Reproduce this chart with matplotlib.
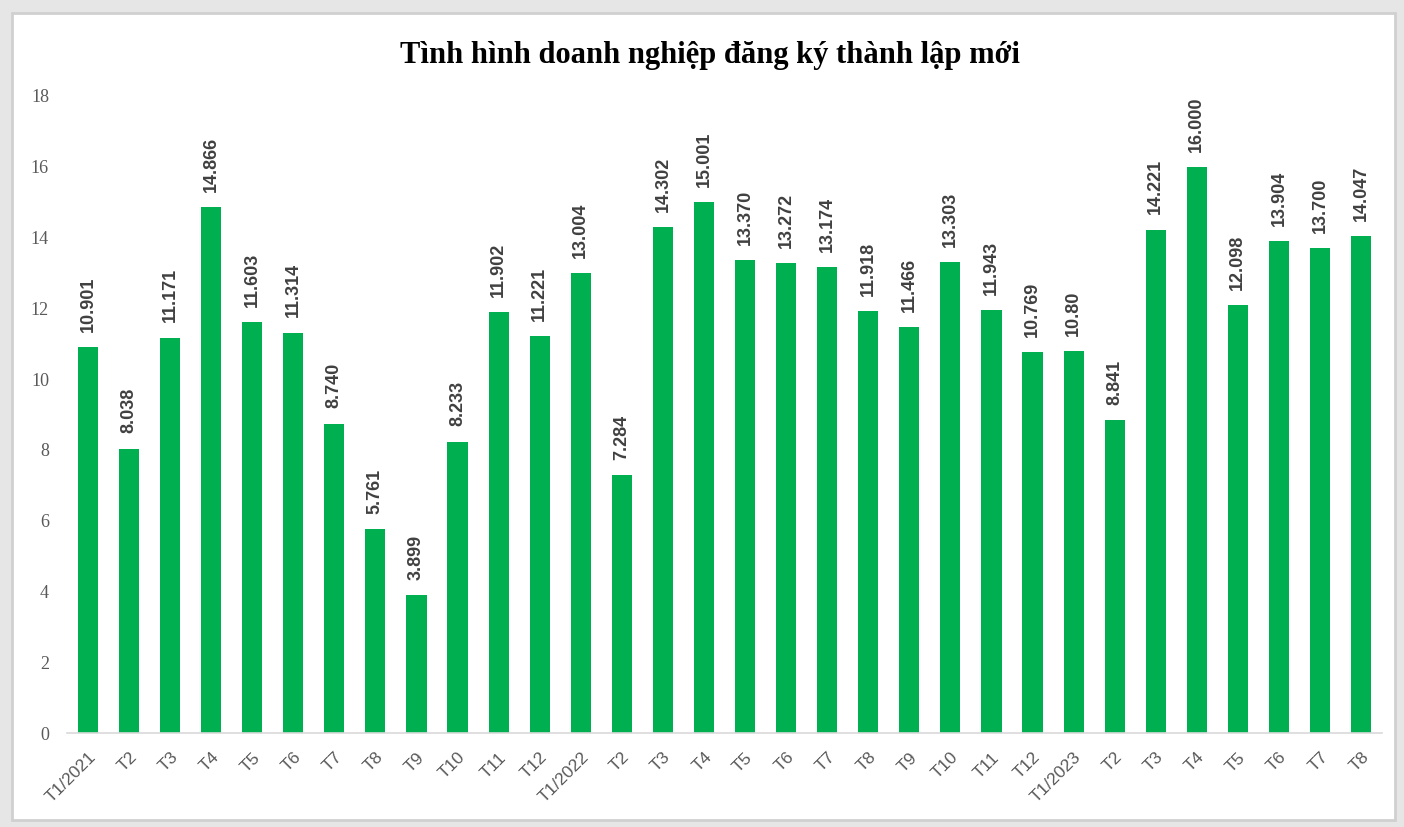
import matplotlib.pyplot as plt
from matplotlib.patches import Rectangle

thang = ['T1/2021', 'T2', 'T3', 'T4', 'T5', 'T6', 'T7', 'T8', 'T9', 'T10', 'T11', 'T12',
         'T1/2022', 'T2', 'T3', 'T4', 'T5', 'T6', 'T7', 'T8', 'T9', 'T10', 'T11', 'T12',
         'T1/2023', 'T2', 'T3', 'T4', 'T5', 'T6', 'T7', 'T8']
so_dn = [10.901, 8.038, 11.171, 14.866, 11.603, 11.314, 8.740, 5.761, 3.899, 8.233, 11.902, 11.221,
         13.004, 7.284, 14.302, 15.001, 13.370, 13.272, 13.174, 11.918, 11.466, 13.303, 11.943, 10.769,
         10.80, 8.841, 14.221, 16.000, 12.098, 13.904, 13.700, 14.047]
nhan = ['10.901', '8.038', '11.171', '14.866', '11.603', '11.314', '8.740', '5.761', '3.899', '8.233',
        '11.902', '11.221', '13.004', '7.284', '14.302', '15.001', '13.370', '13.272', '13.174', '11.918',
        '11.466', '13.303', '11.943', '10.769', '10.80', '8.841', '14.221', '16.000', '12.098', '13.904',
        '13.700', '14.047']

fig = plt.figure(figsize=(14.04, 8.27), dpi=100, facecolor='#e6e6e6')

# khung trang
fig.patches.append(Rectangle((12/1404, 7/827), (1395-12)/1404, (814-7)/827,
                             transform=fig.transFigure, facecolor='white',
                             edgecolor='#d0d0d0', linewidth=2, zorder=-5))

ax = fig.add_axes([67/1404, 1-733/827, (1382-67)/1404, (733-96)/827])
ax.set_zorder(2)
ax.set_facecolor('none')

x = list(range(len(so_dn)))
ax.bar(x, so_dn, width=0.49, color='#00b050', zorder=2)

for xi, v, t in zip(x, so_dn, nhan):
    ax.annotate(t, (xi, v), xytext=(0, 11), textcoords='offset points',
                rotation=90, ha='center', va='bottom', fontsize=13,
                fontweight='bold', color='#404040', family='Liberation Sans')

ax.set_xlim(-0.51, len(so_dn) - 0.49)
ax.set_ylim(0, 18)
ax.set_yticks(range(0, 19, 2))
ax.set_xticks(x)
ax.set_xticklabels(thang, rotation=45, ha='right', rotation_mode='anchor',
                   fontsize=12.5, color='#595959', family='Liberation Sans')
for lb in ax.get_yticklabels():
    lb.set_family('Liberation Serif')
    lb.set_fontsize(13)
    lb.set_color('#595959')
ax.tick_params(axis='both', length=0)
ax.tick_params(axis='y', pad=13)
ax.tick_params(axis='x', pad=12)

for s in ['top', 'right', 'left']:
    ax.spines[s].set_visible(False)
ax.spines['bottom'].set_color('#d9d9d9')
ax.spines['bottom'].set_linewidth(1.2)

fig.text(0.506, 1-55/827, 'Tình hình doanh nghiệp đăng ký thành lập mới', ha='center', va='center',
         fontsize=22, fontweight='bold', family='Liberation Serif', color='black')

plt.savefig('out.png', dpi=100, facecolor=fig.get_facecolor())
